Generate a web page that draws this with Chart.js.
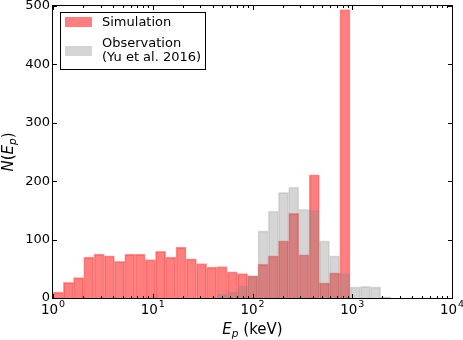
<!DOCTYPE html>
<html>
<head>
<meta charset="utf-8">
<script src="https://cdn.jsdelivr.net/npm/chart.js@4.4.1/dist/chart.umd.min.js"></script>
<style>
  html, body { margin: 0; padding: 0; background: #fff; }
  canvas { display: block; }
</style>
</head>
<body>
<canvas id="histChart" width="463" height="340"></canvas>
<script>
// log-spaced bin centres (keV)
const binCenters = [1.126, 1.426, 1.806, 2.288, 2.899, 3.672, 4.651, 5.892, 7.464, 9.456,
                    11.98, 15.17, 19.22, 24.35, 30.85, 39.07, 49.50, 62.71, 79.43, 100.6,
                    127.5, 161.5, 204.6, 259.2, 328.3, 415.9, 526.9, 667.4, 845.4, 1071,
                    1357, 1719, 2177];
// counts per bin
const simulation = [10, 27, 35, 70, 75, 72, 63, 75, 75, 66,
                    80, 70, 87, 67, 59, 53, 54, 45, 42, 38,
                    58, 72, 98, 145, 74, 211, 26, 43, 494, 0,
                    0, 0, 0];
const observation = [0, 0, 0, 0, 0, 0, 0, 0, 0, 0,
                     0, 0, 0, 0, 0, 0, 7, 10, 21, 38,
                     115, 149, 181, 190, 152, 150, 98, 72, 42, 19,
                     20, 19, 2];
const xTickValues = [1, 10, 100, 1000, 10000];
const xTickLabels = ['10^0', '10^1', '10^2', '10^3', '10^4'];
const yTickValues = [0, 100, 200, 300, 400, 500];

const FONT = 'DejaVu Sans';
Chart.defaults.font.family = FONT;
Chart.defaults.color = '#000';

function toPoints(values) {
    return binCenters.map((x, i) => ({x: x, y: values[i]})).filter(p => p.y > 0);
}

// draw a run of text pieces, some italic / subscripted
function drawPieces(ctx, pieces, size, cx, baseline) {
    const fontFor = p => (p.italic ? 'oblique ' : '') + (p.sub ? size * 0.7 : size) + 'px "' + FONT + '"';
    let total = 0;
    pieces.forEach(p => { ctx.font = fontFor(p); p.w = ctx.measureText(p.t).width; total += p.w; });
    let x = cx - total / 2;
    ctx.textAlign = 'left';
    ctx.textBaseline = 'alphabetic';
    pieces.forEach(p => {
        ctx.font = fontFor(p);
        ctx.fillText(p.t, x, baseline + (p.sub ? size * 0.22 : 0));
        x += p.w;
    });
}

const framePlugin = {
    id: 'frame',
    afterDatasetsDraw(chart) {
        const {ctx, chartArea: a, scales: {x, y}} = chart;
        ctx.save();
        ctx.strokeStyle = '#000';
        ctx.lineWidth = 1;
        ctx.beginPath();
        for (let d = 1; d < 10000; d *= 10) {
            for (let m = 1; m < 10; m++) {
                const px = Math.round(x.getPixelForValue(d * m)) + 0.5;
                const len = m === 1 ? 4 : 2;
                ctx.moveTo(px, a.bottom); ctx.lineTo(px, a.bottom - len);
                ctx.moveTo(px, a.top); ctx.lineTo(px, a.top + len);
            }
        }
        yTickValues.forEach(v => {
            const py = Math.round(y.getPixelForValue(v)) + 0.5;
            ctx.moveTo(a.left, py); ctx.lineTo(a.left + 4, py);
            ctx.moveTo(a.right, py); ctx.lineTo(a.right - 4, py);
        });
        ctx.stroke();
        ctx.strokeRect(a.left - 0.5, a.top - 0.5, a.right - a.left + 1, a.bottom - a.top + 1);
        ctx.restore();
    },
    afterDraw(chart) {
        const {ctx, chartArea: a, scales: {x}} = chart;
        ctx.save();
        ctx.fillStyle = '#000';

        // x tick labels: base with raised exponent
        ctx.textAlign = 'left';
        ctx.textBaseline = 'alphabetic';
        xTickValues.forEach((v, i) => {
            const [base, exp] = xTickLabels[i].split('^');
            ctx.font = '13.5px "' + FONT + '"';
            const wb = ctx.measureText(base).width;
            ctx.font = '9.5px "' + FONT + '"';
            const we = ctx.measureText(exp).width;
            const left = x.getPixelForValue(v) - (wb + 1 + we) / 2;
            ctx.font = '13.5px "' + FONT + '"';
            ctx.fillText(base, left, 314);
            ctx.font = '9.5px "' + FONT + '"';
            ctx.fillText(exp, left + wb + 1, 306.5);
        });

        // axis titles
        drawPieces(ctx, [{t: 'E', italic: true}, {t: 'p', italic: true, sub: true}, {t: ' (keV)'}],
                   15, (a.left + a.right) / 2, 334);
        ctx.save();
        ctx.translate(13, (a.top + a.bottom) / 2);
        ctx.rotate(-Math.PI / 2);
        drawPieces(ctx, [{t: 'N', italic: true}, {t: '('}, {t: 'E', italic: true},
                         {t: 'p', italic: true, sub: true}, {t: ')'}], 15, 0, 0);
        ctx.restore();

        // legend
        const ds = chart.data.datasets;
        ctx.fillStyle = '#fff';
        ctx.fillRect(60.5, 12.5, 145, 57);
        ctx.strokeStyle = '#000';
        ctx.lineWidth = 1;
        ctx.strokeRect(60.5, 12.5, 145, 57);
        const sim = ds.find(d => d.label === 'Simulation');
        const obs = ds.find(d => d.label !== 'Simulation');
        ctx.fillStyle = sim.backgroundColor;
        ctx.fillRect(65, 17, 27, 10);
        ctx.fillStyle = obs.backgroundColor;
        ctx.fillRect(65, 46, 27, 10);
        ctx.fillStyle = '#000';
        ctx.font = '13px "' + FONT + '"';
        ctx.textAlign = 'left';
        ctx.textBaseline = 'middle';
        ctx.fillText(sim.label, 102, 22.5);
        obs.label.split('\n').forEach((line, i) => ctx.fillText(line, 102, 43.5 + i * 14));
        ctx.restore();
    }
};

new Chart(document.getElementById('histChart').getContext('2d'), {
    type: 'bar',
    data: {
        datasets: [
            {
                label: 'Simulation',
                data: toPoints(simulation),
                backgroundColor: 'rgba(255,0,0,0.5)',
                borderColor: 'rgba(255,0,0,0.36)',
                borderWidth: 1,
                order: 2
            },
            {
                label: 'Observation\n(Yu et al. 2016)',
                data: toPoints(observation),
                backgroundColor: 'rgba(128,128,128,0.33)',
                borderColor: 'rgba(128,128,128,0.24)',
                borderWidth: 1,
                order: 1
            }
        ]
    },
    options: {
        responsive: false,
        animation: false,
        devicePixelRatio: 1,
        layout: {padding: {left: 0, right: 11, top: 6, bottom: 0}},
        datasets: {
            bar: {grouped: false, barPercentage: 1, categoryPercentage: 1}
        },
        plugins: {
            legend: {display: false},
            tooltip: {enabled: false}
        },
        scales: {
            x: {
                type: 'logarithmic',
                min: 1,
                max: 10000,
                grid: {display: false, drawTicks: false},
                border: {display: false},
                afterBuildTicks: s => { s.ticks = xTickValues.map(v => ({value: v})); },
                afterFit: s => { s.height = 42; s.paddingLeft = 0; s.paddingRight = 0; },
                ticks: {display: false, autoSkip: false, maxRotation: 0}
            },
            y: {
                min: 0,
                max: 500,
                grid: {display: false, drawTicks: false},
                border: {display: false},
                afterFit: s => { s.width = 53; s.paddingTop = 0; s.paddingBottom = 0; },
                ticks: {stepSize: 100, padding: 3, font: {size: 13}}
            }
        }
    },
    plugins: [framePlugin]
});
</script>
</body>
</html>
